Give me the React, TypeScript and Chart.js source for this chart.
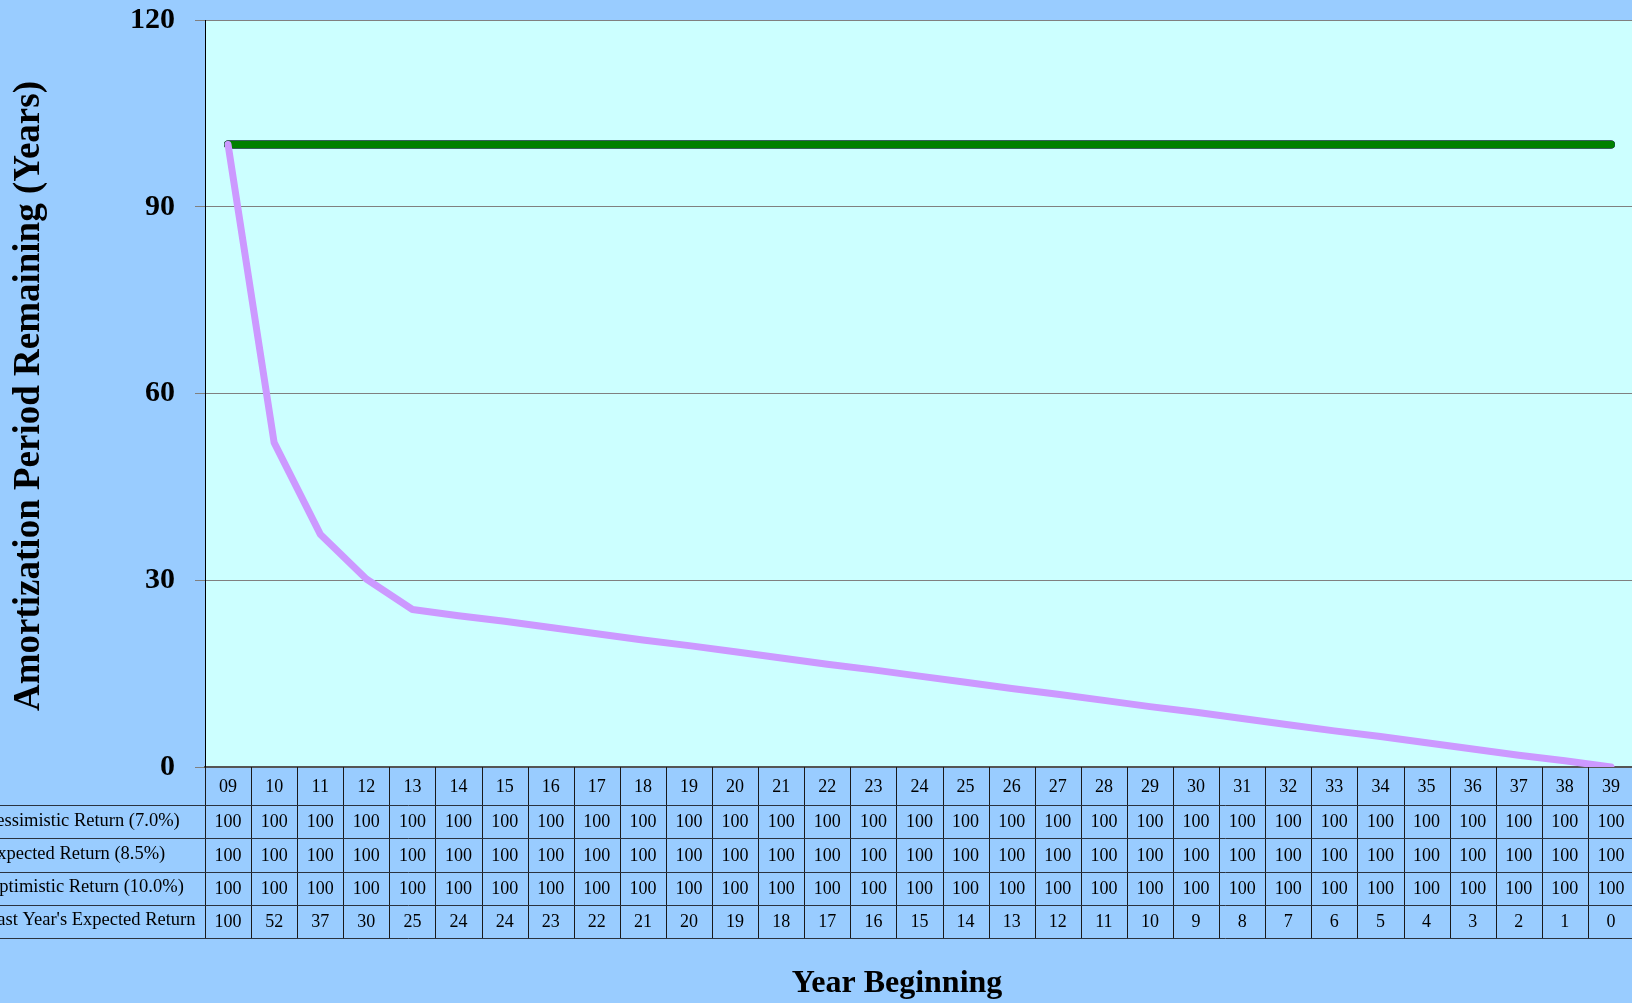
import React, { useEffect, useRef } from "react";
import { Chart, registerables } from "chart.js";

Chart.register(...registerables);

const years = ["09","10","11","12","13","14","15","16","17","18","19","20","21","22","23","24","25","26","27","28","29","30","31","32","33","34","35","36","37","38","39"];
const pessimistic = [100,100,100,100,100,100,100,100,100,100,100,100,100,100,100,100,100,100,100,100,100,100,100,100,100,100,100,100,100,100,100];
const expected = [100,100,100,100,100,100,100,100,100,100,100,100,100,100,100,100,100,100,100,100,100,100,100,100,100,100,100,100,100,100,100];
const optimistic = [100,100,100,100,100,100,100,100,100,100,100,100,100,100,100,100,100,100,100,100,100,100,100,100,100,100,100,100,100,100,100];
// plotted (unrounded)
const lastYearLine = [100,52.1,37.4,30.2,25.3,24.3,23.4,22.4,21.4,20.4,19.5,18.5,17.5,16.5,15.6,14.6,13.6,12.6,11.7,10.7,9.7,8.8,7.8,6.8,5.8,4.9,3.9,2.9,1.9,1.0,0];
// printed in the data table
const lastYearTable = [100,52,37,30,25,24,24,23,22,21,20,19,18,17,16,15,14,13,12,11,10,9,8,7,6,5,4,3,2,1,0];
const seriesNames = ["Pessimistic Return (7.0%)", "Expected Return (8.5%)", "Optimistic Return (10.0%)", "Last Year's Expected Return"];
const yTicks = [0, 30, 60, 90, 120];

const FONT = "'Liberation Serif', 'DejaVu Serif', serif";
const SHIFT = 18;

const tablePlugin = {
  id: "tablePlugin",
  beforeDraw(chart: any) {
    const { ctx, chartArea } = chart;
    ctx.save();
    ctx.fillStyle = "#99CCFF";
    ctx.fillRect(0, 0, chart.width, chart.height);
    ctx.fillStyle = "#CCFFFF";
    ctx.fillRect(chartArea.left, chartArea.top, chartArea.right - chartArea.left, chartArea.bottom - chartArea.top);
    ctx.restore();
  },
  afterDraw(chart: any) {
    const { ctx, chartArea } = chart;
    const xs = chart.scales.x;
    const n = years.length;
    const cw = (chartArea.right - chartArea.left) / n;
    const top = chartArea.bottom;
    const headerH = 38;
    const rowH = 33.3;
    const rowsData = [pessimistic, expected, optimistic, lastYearTable];
    const bottom = top + headerH + rowH * rowsData.length;
    ctx.save();
    ctx.strokeStyle = "#1a1a1a";
    ctx.lineWidth = 1;
    for (let i = 0; i <= n; i++) {
      const x = Math.round(chartArea.left + i * cw) + 0.5;
      ctx.beginPath();
      ctx.moveTo(x, top);
      ctx.lineTo(x, bottom);
      ctx.stroke();
    }
    ctx.strokeStyle = "#2a3340";
    for (let r = 0; r <= rowsData.length; r++) {
      const y = Math.round(top + headerH + r * rowH) + 0.5;
      ctx.beginPath();
      ctx.moveTo(0, y);
      ctx.lineTo(chartArea.right, y);
      ctx.stroke();
    }
    ctx.fillStyle = "#000";
    ctx.font = `18px ${FONT}`;
    ctx.textAlign = "center";
    ctx.textBaseline = "middle";
    for (let i = 0; i < n; i++) {
      ctx.fillText(years[i], xs.getPixelForValue(i), top + headerH / 2 + 1);
    }
    for (let r = 0; r < rowsData.length; r++) {
      const cy = top + headerH + r * rowH + rowH / 2 + 1;
      ctx.font = `18px ${FONT}`;
      ctx.textAlign = "center";
      for (let i = 0; i < n; i++) {
        ctx.fillText(String(rowsData[r][i]), xs.getPixelForValue(i), cy);
      }
      ctx.font = `18.5px ${FONT}`;
      ctx.textAlign = "left";
      ctx.fillText(seriesNames[r], -14, cy - 2);
    }
    ctx.font = `bold 37px ${FONT}`;
    ctx.textAlign = "center";
    ctx.textBaseline = "middle";
    ctx.save();
    ctx.translate(29, 396 + SHIFT);
    ctx.rotate(-Math.PI / 2);
    ctx.fillText("Amortization Period Remaining (Years)", 0, 0);
    ctx.restore();
    ctx.font = `bold 32px ${FONT}`;
    ctx.fillText("Year Beginning", 897, 984 + SHIFT);
    ctx.restore();
  },
};

export default function App() {
  const ref = useRef<HTMLCanvasElement | null>(null);
  useEffect(() => {
    document.body.style.margin = "0";
    document.body.style.overflow = "hidden";
    const canvas = ref.current!;
    const chart = new Chart(canvas, {
      type: "line",
      data: {
        labels: years,
        datasets: [
          { label: seriesNames[0], data: pessimistic, borderColor: "#FF0000", borderWidth: 8, pointRadius: 0, order: 3, borderCapStyle: "round", borderJoinStyle: "round" },
          { label: seriesNames[2], data: optimistic, borderColor: "#0000FF", borderWidth: 8, pointRadius: 0, order: 2, borderCapStyle: "round", borderJoinStyle: "round" },
          { label: seriesNames[1], data: expected, borderColor: "#008000", borderWidth: 8, pointRadius: 0, order: 1, borderCapStyle: "round", borderJoinStyle: "round" },
          { label: seriesNames[3], data: lastYearLine, borderColor: "#CC99FF", borderWidth: 7, pointRadius: 0, order: 0, borderCapStyle: "round", borderJoinStyle: "round" },
        ],
      } as any,
      options: {
        responsive: false,
        animation: false,
        devicePixelRatio: 1,
        layout: { padding: { top: 0, left: 0, right: 6, bottom: 0 } },
        plugins: { legend: { display: false }, tooltip: { enabled: false } },
        scales: {
          x: {
            type: "category",
            offset: true,
            grid: { display: false, drawTicks: false },
            border: { display: true, color: "#555", width: 2 },
            ticks: { display: false },
            afterFit(scale: any) { scale.height = 236; },
          },
          y: {
            min: 0,
            max: 120,
            afterBuildTicks(scale: any) { scale.ticks = yTicks.map((v) => ({ value: v })); },
            grid: { color: "#808080", lineWidth: 1, tickLength: 10, drawTicks: true, tickColor: "#808080" },
            border: { display: true, color: "#000", width: 1 },
            ticks: { color: "#000", font: { family: FONT, size: 30, weight: "bold" }, padding: 20 },
            afterFit(scale: any) { scale.width = 205; },
          },
        },
      } as any,
      plugins: [tablePlugin],
    });
    return () => chart.destroy();
  }, []);
  return (
    <div style={{ position: "fixed", left: 0, top: 0, width: 1632, height: 1003, overflow: "hidden", background: "#99CCFF" }}>
      <canvas ref={ref} width={1640} height={1003 + SHIFT} style={{ position: "absolute", left: 0, top: -SHIFT, width: 1640, height: 1003 + SHIFT, display: "block" }} />
    </div>
  );
}
